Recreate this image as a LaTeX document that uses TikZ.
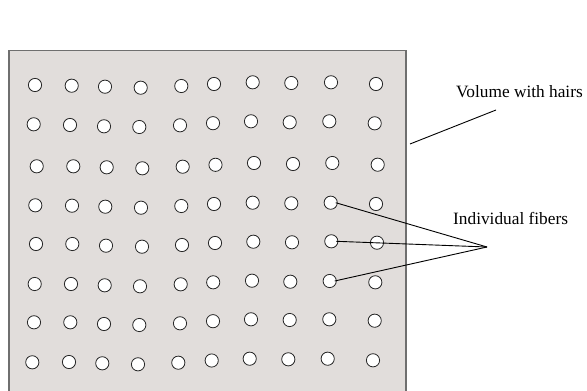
\documentclass[tikz,border=0pt]{standalone}
\usepackage{fontspec}
\setmainfont{Liberation Serif}
\begin{document}
\definecolor{volfill}{HTML}{E1DDDB}
\definecolor{volframe}{HTML}{6F6F6F}
\begin{tikzpicture}[x=1pt,y=-1pt,
  volume/.style={fill=volfill,draw=volframe,line width=1.4pt},
  fiber/.style={circle,draw=black!85,fill=white,line width=0.8pt,minimum size=13.2pt,inner sep=0pt},
  leader/.style={draw=black,line width=0.9pt},
  caption/.style={font=\fontsize{17.3}{20}\selectfont,inner sep=0pt,anchor=base west}]
\useasboundingbox (0,0) rectangle (587,391);
\clip (0,0) rectangle (587,391);
% the hair volume, open at the bottom
\fill[volfill] (9,50.5) rectangle (406,400);
\draw[volume,fill=none] (9,400) -- (9,50.5) -- (406,50.5) -- (406,400);
% leader lines go underneath the fibres they pass over
\coordinate (vedge) at (410,144);
\coordinate (vtip) at (496,110);
\coordinate (ftip) at (487,247);
% fibres, row by row
\foreach \x/\y [count=\c] in {35/85,71.7/85.7,105/86.7,140.7/87.7,181.3/86,214/84,252.7/82.3,291.3/83,331/82.3,376/84}
  \node[fiber] (c1-\c) at (\x,\y) {};
\foreach \x/\y [count=\c] in {33.7/124.3,70/125,104/126.3,139.3/127,180/125.3,213/123.2,251/121.3,289.7/122.3,329.3/121.3,374.7/123.3}
  \node[fiber] (c2-\c) at (\x,\y) {};
\foreach \x/\y [count=\c] in {36.7/166.3,73.3/166.3,106.7/167.3,142.3/168.3,182.7/166.7,215.5/164.8,254/163,293/164,332.3/163,377.7/164.7}
  \node[fiber] (c3-\c) at (\x,\y) {};
\foreach \x/\y [count=\c] in {35.3/205.3,72/205.7,105.3/206.7,141/207.7,181.3/206,214/204,252.7/202.7,291.3/203.3,330.7/202.7,376/204}
  \node[fiber] (c4-\c) at (\x,\y) {};
\foreach \x/\y [count=\c] in {36/244,72.3/244,106/245.7,142/246.7,182/245,215/243,253.3/241.7,292/242.3,331.3/241.3,377/242.7}
  \node[fiber] (c5-\c) at (\x,\y) {};
\foreach \x/\y [count=\c] in {34.7/284,71/284,104.7/285.3,140/286.3,180.7/284.3,213.2/282.3,252/280.7,290.3/281.7,329.7/281,375.3/282.3}
  \node[fiber] (c6-\c) at (\x,\y) {};
\foreach \x/\y [count=\c] in {34/322.3,70.3/322.3,104/324,139.3/325,180/323.3,213/321.2,251/319.3,289.7/320,329.3/319.3,374.7/320.7}
  \node[fiber] (c7-\c) at (\x,\y) {};
\foreach \x/\y [count=\c] in {32.3/362.3,69/362,102.3/363.3,138/364.3,178.3/362.7,211.7/360.5,249.7/358.7,288.3/359.3,327.7/358.7,373/360.3}
  \node[fiber] (c8-\c) at (\x,\y) {};
% labels
\node[caption] (lvol) at (456,97) {Volume with hairs};
\node[caption] (lfib) at (453,224) {Individual fibers};
% leaders
\draw[leader] (vedge) -- (vtip);
\draw[leader] ([xshift=5pt]c4-9.center) -- (ftip);
\draw[leader] ([xshift=5pt]c5-9.center) -- (ftip);
\draw[leader] ([xshift=5pt]c6-9.center) -- (ftip);
\end{tikzpicture}
\end{document}
